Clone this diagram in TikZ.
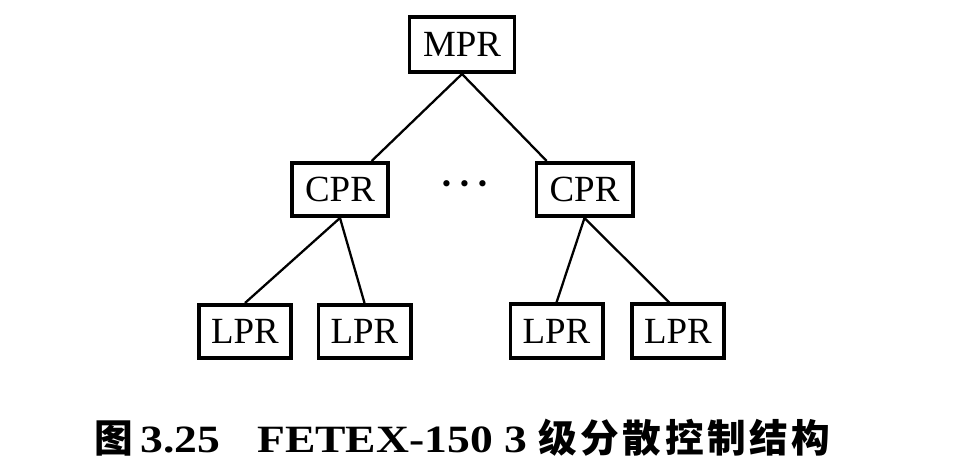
\documentclass[tikz,border=0pt]{standalone}
\usepackage{fontspec}
\setmainfont{Liberation Serif}
\newfontfamily\cjk[LetterSpace=9]{Noto Sans CJK SC}
\newfontfamily\capfont[FakeStretch=1.18]{Liberation Serif}

\newcommand{\varmw}{2.11cm}
\newcommand{\varmh}{1.11cm}
\newcommand{\varcw}{1.93cm}
\newcommand{\varlw}{1.85cm}
\newcommand{\varh}{1.07cm}

\begin{document}
\begin{tikzpicture}[x=0.02cm, y=-0.02cm,
	box/.style={draw, line width=2pt, inner sep=0pt, minimum height=\varh, font=\fontsize{21}{24}\selectfont},
	link/.style={line width=1.3pt}]

	% frame
	\useasboundingbox (0,0) rectangle (958,470);

	% processors
	\node [box, minimum width=\varmw, minimum height=\varmh] (mpr) at (462,44.5) {MPR};
	\node [box, minimum width=\varcw] (cprl) at (340,189.5) {CPR};
	\node [box, minimum width=\varcw] (cprr) at (584.5,189.5) {CPR};
	\node [anchor=base, inner sep=0pt, font=\fontsize{22}{24}\selectfont\bfseries] (dots) at (465,196) {·\hspace{0.14em}·\hspace{0.14em}·};
	\node [box, minimum width=\varlw] (lpra) at (245,331.5) {LPR};
	\node [box, minimum width=\varlw] (lprb) at (364.5,331.5) {LPR};
	\node [box, minimum width=\varlw] (lprc) at (556.5,331) {LPR};
	\node [box, minimum width=\varlw] (lprd) at (678,331) {LPR};

	% links
	\draw [link] (mpr.south) -- (cprl.42);
	\draw [link] (mpr.south) -- (cprr.143);
	\draw [link] (cprl.south) -- (lpra.north);
	\draw [link] (cprl.south) -- (lprb.north);
	\draw [link] (cprr.south) -- (lprc.north);
	\draw [link] (cprr.south) -- (lprd.107);

	% caption
	\node [anchor=base west, inner sep=0pt, font=\fontsize{22}{26}\selectfont\capfont\bfseries] (cap) at (94,452)
		{{\cjk 图}\hspace{0.2em}3.25\hspace{0.95em}FETEX-150 3\hspace{0.3em}{\cjk 级分散控制结构}};

\end{tikzpicture}
\end{document}
